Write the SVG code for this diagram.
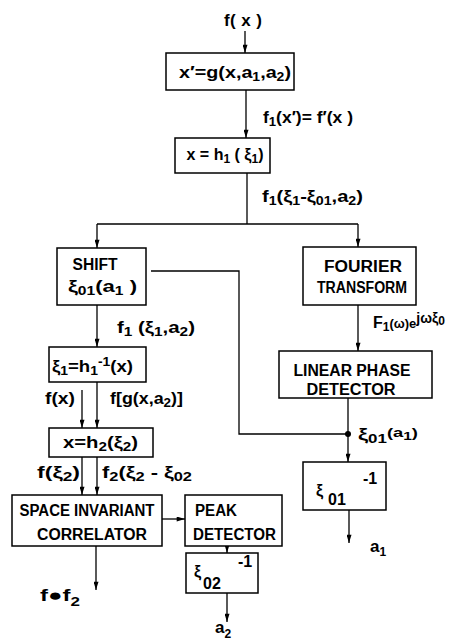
<svg xmlns="http://www.w3.org/2000/svg" width="454" height="644" viewBox="0 0 454 644">
<defs>
<style>
.box{fill:#fff;stroke:#000;stroke-width:1.5}
.ln{fill:none;stroke:#000;stroke-width:1.3}
.ar{marker-end:url(#ah)}
text{font-family:"Liberation Sans",Arial,sans-serif;font-weight:bold;fill:#000;font-size:16px}
.c{text-anchor:middle}
.sb{font-size:12px}
.k{font-size:17px}
</style>
<marker id="ah" viewBox="0 0 10 6" refX="10" refY="3" markerWidth="9" markerHeight="5" markerUnits="userSpaceOnUse" orient="auto">
<path d="M0,0 L10,3 L0,6 z" fill="#000"/>
</marker>
</defs>
<rect width="454" height="644" fill="#fff"/>

<g id="connectors">
<line class="ln ar" x1="245" y1="31" x2="245" y2="53"/>
<line class="ln ar" x1="246" y1="90" x2="246" y2="138"/>
<polyline class="ln" points="247,173 247,224"/>
<polyline class="ln" points="97,224 358,224"/>
<line class="ln ar" x1="97" y1="224" x2="97" y2="248"/>
<line class="ln ar" x1="358" y1="224" x2="358" y2="247"/>
<polyline class="ln" points="151,271 239,271 239,434 348,434"/>
<line class="ln ar" x1="97" y1="305" x2="97" y2="347"/>
<line class="ln ar" x1="358" y1="305" x2="358" y2="351"/>
<line class="ln" x1="348" y1="398" x2="348" y2="434"/>
<line class="ln ar" x1="348" y1="434" x2="348" y2="462"/>
<circle cx="348" cy="434" r="3" fill="#000"/>
<line class="ln ar" x1="349" y1="510" x2="349" y2="543"/>
<line class="ln ar" x1="82" y1="390" x2="82" y2="428"/>
<line class="ln ar" x1="97" y1="382" x2="97" y2="428"/>
<line class="ln ar" x1="82" y1="457" x2="82" y2="495"/>
<line class="ln ar" x1="97" y1="457" x2="97" y2="495"/>
<line class="ln ar" x1="162" y1="519" x2="185" y2="519"/>
<line class="ln ar" x1="227" y1="546" x2="227" y2="553"/>
<line class="ln ar" x1="227" y1="593" x2="227" y2="622"/>
<line class="ln ar" x1="96" y1="546" x2="96" y2="590"/>
</g>

<g id="labels">
<text x="243" y="26" class="c k" textLength="38" lengthAdjust="spacing">f( x )</text>
<text x="263" y="123" textLength="90" lengthAdjust="spacingAndGlyphs">f<tspan class="sb" baseline-shift="-3">1</tspan>(x′)= f′(x )</text>
<text x="262" y="202" class="k" textLength="101" lengthAdjust="spacingAndGlyphs">f<tspan class="sb" baseline-shift="-3">1</tspan>(ξ<tspan class="sb" baseline-shift="-3">1</tspan>-ξ<tspan class="sb" baseline-shift="-3">01</tspan>,a<tspan class="sb" baseline-shift="-3">2</tspan>)</text>
<text x="117" y="333" textLength="78" lengthAdjust="spacingAndGlyphs">f<tspan class="sb" baseline-shift="-3">1</tspan> (ξ<tspan class="sb" baseline-shift="-3">1</tspan>,a<tspan class="sb" baseline-shift="-3">2</tspan>)</text>
<text x="373" y="328">F<tspan class="sb" baseline-shift="-3">1</tspan><tspan font-size="13">(ω)e</tspan><tspan font-size="14" baseline-shift="5">jωξ</tspan><tspan font-size="12" baseline-shift="3">0</tspan></text>
<text x="45" y="404" textLength="30" lengthAdjust="spacingAndGlyphs">f(x)</text>
<text x="110" y="404" textLength="73" lengthAdjust="spacingAndGlyphs">f[g(x,a<tspan class="sb" baseline-shift="-3">2</tspan>)]</text>
<text x="37" y="478" textLength="43" lengthAdjust="spacingAndGlyphs">f(ξ<tspan class="sb" baseline-shift="-3">2</tspan>)</text>
<text x="102" y="478" textLength="90" lengthAdjust="spacingAndGlyphs">f<tspan class="sb" baseline-shift="-3">2</tspan>(ξ<tspan class="sb" baseline-shift="-3">2</tspan> - ξ<tspan class="sb" baseline-shift="-3">02</tspan></text>
<text x="358" y="440" textLength="60" lengthAdjust="spacingAndGlyphs">ξ<tspan class="sb" baseline-shift="-3">01</tspan><tspan font-size="13" baseline-shift="3">(a<tspan font-size="11" baseline-shift="-3">1</tspan>)</tspan></text>
<text x="370" y="552" class="k">a<tspan class="sb" baseline-shift="-4">1</tspan></text>
<text x="215" y="633" class="k">a<tspan class="sb" baseline-shift="-5">2</tspan></text>
<text x="40" y="601" class="k" textLength="40" lengthAdjust="spacingAndGlyphs">f●f<tspan class="sb" baseline-shift="-5">2</tspan></text>
</g>

<g id="n-g">
<rect class="box" x="166" y="53" width="128" height="37"/>
<text x="235" y="78" class="c k" textLength="112" lengthAdjust="spacingAndGlyphs">x′=g(x,a<tspan class="sb" baseline-shift="-3">1</tspan>,a<tspan class="sb" baseline-shift="-3">2</tspan>)</text>
</g>
<g id="n-h1">
<rect class="box" x="175" y="138" width="95" height="35"/>
<text x="225" y="160" class="c">x = h<tspan class="sb" baseline-shift="-3">1</tspan> ( ξ<tspan class="sb" baseline-shift="-3">1</tspan>)</text>
</g>
<g id="n-shift">
<rect class="box" x="57" y="248" width="89" height="57"/>
<text x="95" y="270" class="c" textLength="45" lengthAdjust="spacingAndGlyphs">SHIFT</text>
<text x="68" y="292" class="k" textLength="69" lengthAdjust="spacingAndGlyphs">ξ<tspan class="sb" baseline-shift="-3">01</tspan>(a<tspan class="sb" baseline-shift="-3">1</tspan> )</text>
</g>
<g id="n-fourier">
<rect class="box" x="303" y="247" width="113" height="58"/>
<text x="363" y="272" class="c" textLength="78" lengthAdjust="spacingAndGlyphs">FOURIER</text>
<text x="362" y="293" class="c" font-size="15" textLength="90" lengthAdjust="spacingAndGlyphs">TRANSFORM</text>
</g>
<g id="n-xi1">
<rect class="box" x="49" y="347" width="97" height="35"/>
<text x="52" y="372" textLength="81" lengthAdjust="spacingAndGlyphs">ξ<tspan class="sb" baseline-shift="-3">1</tspan>=h<tspan class="sb" baseline-shift="-3">1</tspan><tspan class="sb" baseline-shift="6">-1</tspan>(x)</text>
</g>
<g id="n-lpd">
<rect class="box" x="279" y="351" width="153" height="47"/>
<text x="352" y="376" class="c" textLength="117" lengthAdjust="spacingAndGlyphs">LINEAR PHASE</text>
<text x="351" y="395" class="c" textLength="89" lengthAdjust="spacingAndGlyphs">DETECTOR</text>
</g>
<g id="n-h2">
<rect class="box" x="49" y="428" width="104" height="29"/>
<text x="63" y="448" textLength="75" lengthAdjust="spacingAndGlyphs">x=h<tspan class="sb" baseline-shift="-3">2</tspan>(ξ<tspan class="sb" baseline-shift="-3">2</tspan>)</text>
</g>
<g id="n-xi01inv">
<rect class="box" x="303" y="462" width="83" height="48"/>
<text x="316" y="496" font-size="22">ξ</text>
<text x="328" y="505" font-size="13">01</text>
<text x="363" y="484" font-size="12">-1</text>
</g>
<g id="n-sic">
<rect class="box" x="12" y="495" width="150" height="51"/>
<text x="87" y="516" class="c" textLength="135" lengthAdjust="spacingAndGlyphs">SPACE INVARIANT</text>
<text x="92" y="540" class="c" textLength="110" lengthAdjust="spacingAndGlyphs">CORRELATOR</text>
</g>
<g id="n-peak">
<rect class="box" x="185" y="495" width="97" height="51"/>
<text x="195" y="516" textLength="42" lengthAdjust="spacingAndGlyphs">PEAK</text>
<text x="193" y="540" textLength="83" lengthAdjust="spacingAndGlyphs">DETECTOR</text>
</g>
<g id="n-xi02inv">
<rect class="box" x="186" y="553" width="72" height="40"/>
<text x="194" y="577" font-size="20">ξ</text>
<text x="203" y="589" font-size="15">02</text>
<text x="238" y="567" font-size="12">-1</text>
</g>
</svg>
